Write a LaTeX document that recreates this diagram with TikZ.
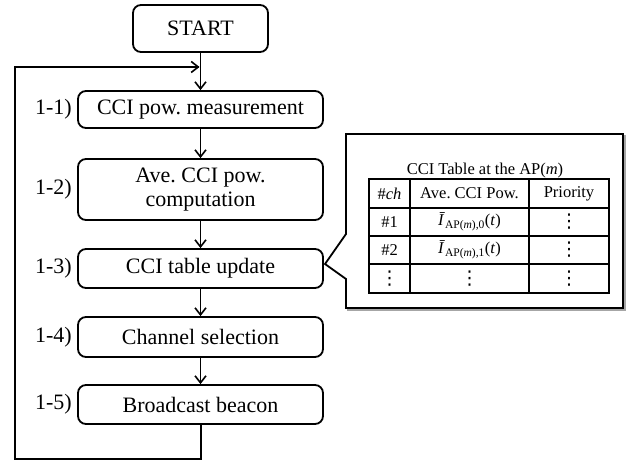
\documentclass[tikz,border=0pt]{standalone}
\usepackage{fontspec}
\setmainfont{Liberation Serif}
\newfontfamily\symfont{DejaVu Sans}
\usetikzlibrary{arrows.meta}
\frenchspacing
\newcommand{\vdotsym}{{\symfont\fontsize{19}{19}\selectfont ⋮}}
\tikzset{
  stepbox/.style={draw, line width=1.8pt, rounded corners=8pt, minimum width=245pt,
    minimum height=38pt, inner sep=0pt, align=center,
    font=\fontsize{22}{25}\selectfont},
  steplabel/.style={anchor=east, inner sep=0pt, font=\fontsize{22}{25}\selectfont},
  arr/.style={line width=1.6pt, -{Straight Barb[length=7pt,width=11pt,line width=1.6pt]}},
  loopline/.style={line width=2pt},
  cell/.style={inner sep=0pt, font=\fontsize{16.5}{19}\selectfont},
  gridline/.style={line width=1.2pt},
}
\begin{document}
\begin{tikzpicture}[x=1pt, y=-1pt]
\useasboundingbox (0,0) rectangle (627,462);

% flow steps
\node[stepbox, minimum width=135pt, minimum height=47pt] (start) at (200.5,28.5) {START};
\node[stepbox, minimum height=37pt] (s1) at (200.5,109.5) {CCI pow. measurement};
\node[stepbox, minimum height=61pt] (s2) at (200.5,189.5) {Ave. CCI pow.\\[-1pt]computation};
\node[stepbox, minimum height=39pt] (s3) at (200.5,268.5) {CCI table update};
\node[stepbox, minimum height=40pt] (s4) at (200.5,337) {Channel selection};
\node[stepbox, minimum height=39pt] (s5) at (200.5,404.5) {Broadcast beacon};

\node[steplabel] (l1) at (72,109.5) {1-1)};
\node[steplabel] (l2) at (72,189.5) {1-2)};
\node[steplabel] (l3) at (72,268.5) {1-3)};
\node[steplabel] (l4) at (72,337) {1-4)};
\node[steplabel] (l5) at (72,404.5) {1-5)};

% arrows between steps
\draw[arr] (start) -- (s1);
\draw[arr] (s1) -- (s2);
\draw[arr] (s2) -- (s3);
\draw[arr] (s3) -- (s4);
\draw[arr] (s4) -- (s5);

% feedback loop
\coordinate (bl) at (15,459);
\coordinate (tl) at (15,67);
\coordinate (join) at (200.5,67);
\draw[loopline, line join=miter] (s5.south) -- (s5.south |- bl) -- (bl) -- (tl) -- ([xshift=-2pt]join);
\draw[arr] (tl) -- ([xshift=-1pt]join);

% callout with the CCI table
\draw[line width=2pt, gray!70, line join=miter]
  (348,136) -- (625,136) -- (625,310) -- (348,310) -- cycle;
\draw[line width=1.8pt, fill=white, line join=miter]
  (346,134) -- (623,134) -- (623,308) -- (346,308) -- (346,279) -- (325,264) -- (346,234) -- cycle;

\node[cell, anchor=base] (title) at (485,175) {CCI Table at the AP(\textit{m})};

% table grid
\draw[gridline] (369,179) rectangle (609,293);
\foreach \yy in {208,236,264} \draw[gridline] (369,\yy) -- (609,\yy);
\foreach \xx in {410,529} \draw[gridline] (\xx,179) -- (\xx,293);

% table contents
\node[cell] (h1) at (389.5,193.5) {\#\textit{ch}};
\node[cell] (h2) at (469.5,193.5) {Ave. CCI Pow.};
\node[cell] (h3) at (569,193.5) {Priority};
\node[cell] (a1) at (389.5,222) {\#1};
\node[cell] (a2) at (469.5,222) {\textit{Ī}\textsubscript{AP(\textit{m}),0}(\textit{t})};
\node[cell] (a3) at (569,222) {\vdotsym};
\node[cell] (b1) at (389.5,250) {\#2};
\node[cell] (b2) at (469.5,250) {\textit{Ī}\textsubscript{AP(\textit{m}),1}(\textit{t})};
\node[cell] (b3) at (569,250) {\vdotsym};
\node[cell] (c1) at (389.5,278.5) {\vdotsym};
\node[cell] (c2) at (469.5,278.5) {\vdotsym};
\node[cell] (c3) at (569,278.5) {\vdotsym};
\end{tikzpicture}
\end{document}
